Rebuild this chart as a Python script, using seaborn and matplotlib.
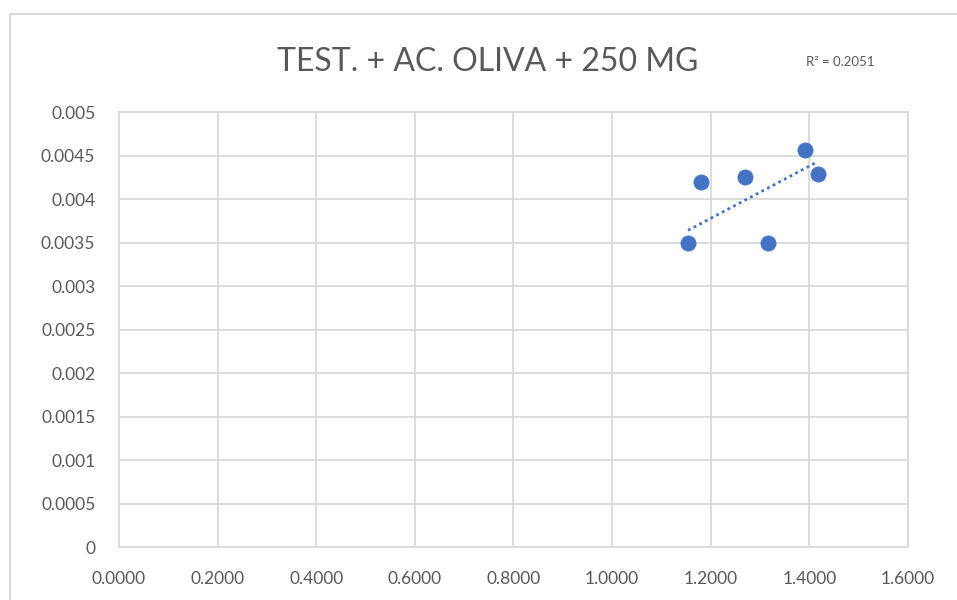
import numpy as np
import pandas as pd
import matplotlib
matplotlib.use("Agg")
import matplotlib.pyplot as plt
import seaborn as sns

# Data
x_vals = [1.154, 1.180, 1.269, 1.316, 1.391, 1.417]
y_vals = [0.00350, 0.00419, 0.00425, 0.00350, 0.00456, 0.00429]
# Linear trendline as drawn in the reference (end points)
trend_x = [1.154, 1.417]
trend_y = [0.00364, 0.00443]
title = "TEST. + AC. OLIVA + 250 MG"
r2_label = "R² = 0.2051"
x_ticks = [0.0, 0.2, 0.4, 0.6, 0.8, 1.0, 1.2, 1.4, 1.6]
y_ticks = [0, 0.0005, 0.001, 0.0015, 0.002, 0.0025, 0.003, 0.0035, 0.004, 0.0045, 0.005]
y_tick_labels = ["0", "0.0005", "0.001", "0.0015", "0.002", "0.0025", "0.003",
                 "0.0035", "0.004", "0.0045", "0.005"]

df = pd.DataFrame({"x": x_vals, "y": y_vals})
trend = pd.DataFrame({"x": trend_x, "y": trend_y})

sns.set_style("white")
plt.rcParams["font.family"] = ["Lato", "DejaVu Sans"]

fig = plt.figure(figsize=(9.57, 6.0), dpi=100)
ax = fig.add_axes([0.1243, 0.0883, 0.8245, 0.725])

blue = "#4472C4"
sns.lineplot(data=trend, x="x", y="y", ax=ax, color=blue,
             ls=(0, (1, 1.3)), lw=2.0)
sns.scatterplot(data=df, x="x", y="y", ax=ax, color=blue, s=120,
                edgecolor=blue, linewidth=0.5, zorder=3)

ax.set_xlim(0, 1.6)
ax.set_ylim(0, 0.005)
ax.set_xticks(x_ticks)
ax.set_xticklabels([f"{v:.4f}" for v in x_ticks])
ax.set_yticks(y_ticks)
ax.set_yticklabels(y_tick_labels)
ax.grid(True, color="#d9d9d9", lw=1.3)
ax.set_axisbelow(True)
for s in ax.spines.values():
    s.set_color("#d9d9d9")
    s.set_linewidth(1.3)
ax.tick_params(axis="y", length=0, colors="#595959", labelsize=12.5, pad=17)
ax.tick_params(axis="x", length=0, colors="#595959", labelsize=12.5, pad=17)
ax.set_xlabel("")
ax.set_ylabel("")

fig.text(0.51, 0.897, title, ha="center", va="center", fontsize=23, color="#595959")
fig.text(0.878, 0.897, r2_label, ha="center", va="center", fontsize=9.5, color="#595959")

# chart border (left and top)
fig.add_artist(plt.Line2D([0.0105, 0.0105, 1.0], [0.0, 0.977, 0.977],
                          color="#d9d9d9", lw=1.5))

fig.savefig("out.png", dpi=100)
